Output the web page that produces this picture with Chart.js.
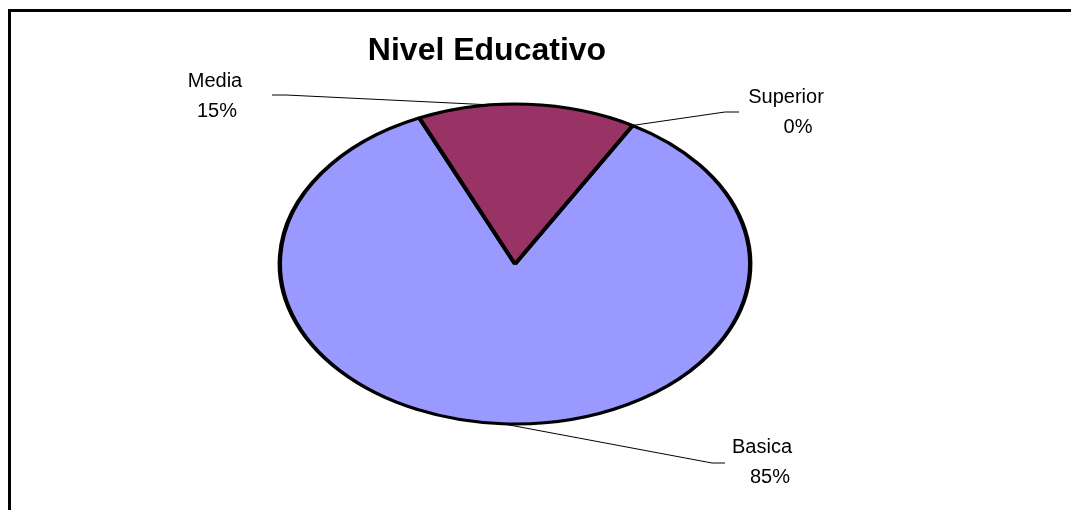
<!DOCTYPE html>
<html>
<head>
<meta charset="utf-8">
<script src="https://cdn.jsdelivr.net/npm/chart.js@4/dist/chart.umd.min.js"></script>
<style>
    html, body { margin: 0; padding: 0; background: #fff; overflow: hidden; }
    #wrap { position: relative; width: 1071px; height: 510px; }
    #frame { position: absolute; left: 8px; top: 9px; width: 2000px; height: 2000px; border: 3px solid #000; pointer-events: none; }
</style>
</head>
<body>
<div id="wrap">
    <canvas id="chart-pie" width="1071" height="510"></canvas>
    <div id="frame"></div>
</div>
<script>
/* Data */
const chartTitle = 'Nivel Educativo'
const categories = ['Basica', 'Media', 'Superior']
const percents = [85, 15, 0]
const sliceColors = ['#9999FF', '#993366', '#FFFFCC']

/* Where each label sits (text lines + leader line elbow) */
const labelLayout = [
    { x1: 762, x2: 770, y: 453, elbow: [712, 463], end: [725, 463], nudge: 0 },
    { x1: 215, x2: 217, y: 87, elbow: [286, 95], end: [272, 95], nudge: -9 },
    { x1: 786, x2: 798, y: 103, elbow: [725, 112], end: [739, 112], nudge: 0 }
]

const FONT = "Arial, 'Liberation Sans', sans-serif"
const STRETCH = 1.47

/* Squash the circle into the Excel ellipse */
const ellipsePlugin = {
    id: 'ellipse',
    beforeDatasetsDraw(chart) {
        const arc = chart.getDatasetMeta(0).data[0]
        const ctx = chart.ctx
        ctx.save()
        ctx.translate(arc.x, arc.y)
        ctx.scale(STRETCH, 1)
        ctx.translate(-arc.x, -arc.y)
    },
    afterDatasetsDraw(chart) {
        chart.ctx.restore()
    }
}

/* Title, leader lines and labels */
const labelsPlugin = {
    id: 'excelLabels',
    afterDraw(chart) {
        const ctx = chart.ctx
        const arcs = chart.getDatasetMeta(0).data
        ctx.save()
        ctx.fillStyle = '#000'
        ctx.textAlign = 'center'
        ctx.textBaseline = 'alphabetic'
        ctx.font = 'bold 32px ' + FONT
        ctx.fillText(chartTitle, 487, 60)

        ctx.font = '20px ' + FONT
        arcs.forEach(function (arc, i) {
            const lay = labelLayout[i]
            const mid = (arc.startAngle + arc.endAngle) / 2 + lay.nudge * Math.PI / 180
            const ax = arc.x + Math.cos(mid) * arc.outerRadius * STRETCH
            const ay = arc.y + Math.sin(mid) * arc.outerRadius
            ctx.strokeStyle = '#000'
            ctx.lineWidth = 1
            ctx.beginPath()
            ctx.moveTo(ax, ay)
            ctx.lineTo(lay.elbow[0], lay.elbow[1])
            ctx.lineTo(lay.end[0], lay.end[1])
            ctx.stroke()
            ctx.fillText(categories[i], lay.x1, lay.y)
            ctx.fillText(percents[i] + '%', lay.x2, lay.y + 30)
        })
        ctx.restore()
    }
}

var canva = document.getElementById('chart-pie')
var chart = new Chart(canva, {
    type: 'pie',
    data: {
        labels: categories,
        datasets: [{
            data: percents,
            backgroundColor: sliceColors,
            borderColor: '#000',
            borderWidth: 3,
            clip: false
        }]
    },
    options: {
        responsive: false,
        animation: false,
        rotation: 30,
        radius: 160,
        layout: { padding: { left: 0, right: 41, top: 18, bottom: 0 } },
        plugins: {
            legend: { display: false },
            title: { display: false },
            tooltip: { enabled: false }
        }
    },
    plugins: [ellipsePlugin, labelsPlugin]
})
</script>
</body>
</html>
